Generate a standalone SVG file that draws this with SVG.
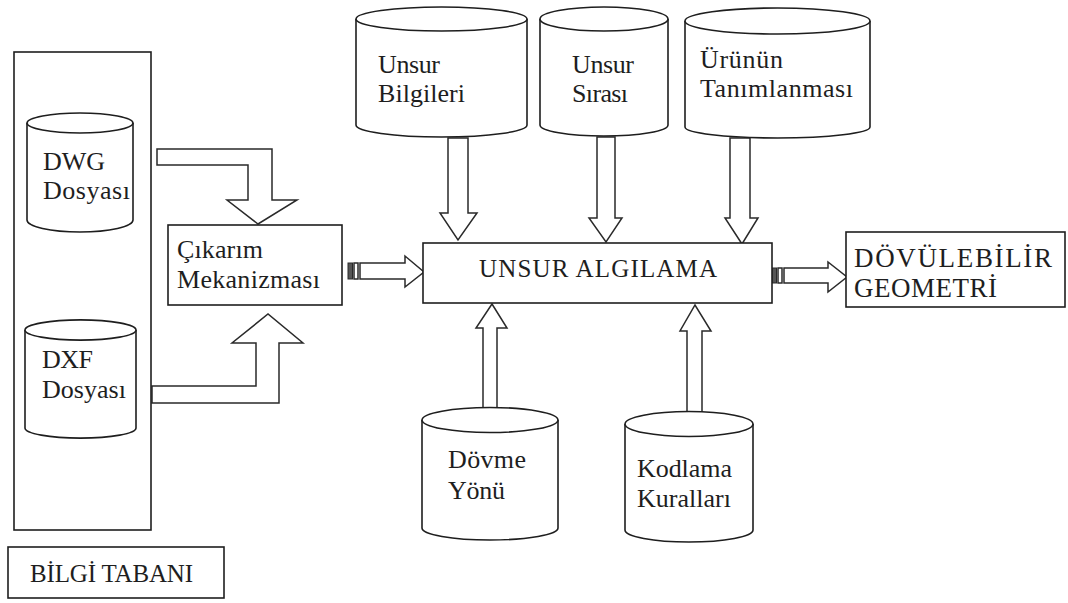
<svg xmlns="http://www.w3.org/2000/svg" width="1068" height="603" viewBox="0 0 1068 603">
<style>
.s{fill:#fff;stroke:#1e1e1e;stroke-width:1.6;stroke-linejoin:miter}
.a{fill:#fff;stroke:#2a2a2a;stroke-width:1.5;stroke-linejoin:miter}
.d{fill:#555;stroke:#2a2a2a;stroke-width:1}
text{font-family:"Liberation Serif","Times New Roman",serif;font-size:26px;fill:#1e1e1e}
.b{font-size:25px}
.c{font-size:27px}
</style>
<rect width="1068" height="603" fill="#fff"/>
<g id="connectors">
<polygon class="a" points="157,149 272,149 272,200 297,200 258,224 227,200 248,200 248,165 157,165"/>
<polygon class="a" points="152,403 279,403 279,343 303,343 268,314 232,343 256,343 256,386 152,386"/>
<g id="arrow-cik-unsur">
<rect class="d" x="348" y="263" width="4.5" height="16"/>
<rect class="a" x="354" y="263" width="4" height="16"/>
<polygon class="a" points="360,263 405,263 405,256 424,272 405,287 405,279 360,279"/>
</g>
<g id="arrow-unsur-dov">
<rect class="d" x="772" y="268" width="4.5" height="15"/>
<rect class="a" x="778" y="268" width="4" height="15"/>
<polygon class="a" points="784,268 828,268 828,262 847,277 828,292 828,283 784,283"/>
</g>
<polygon class="a" points="448,138 468,138 468,213 477,213 458,240 440,213 448,213"/>
<polygon class="a" points="597,137 615,137 615,218 622,218 606,242 589,218 597,218"/>
<polygon class="a" points="730,138 750,138 750,218 758,218 742,244 725,218 730,218"/>
<polygon class="a" points="483,410 497,410 497,328 507,328 492,304 476,328 483,328"/>
<polygon class="a" points="687,414 702,414 702,331 711,331 695,305 680,331 687,331"/>
</g>
<g id="bilgi-tabani-frame">
<rect class="s" x="14" y="52" width="137" height="478"/>
</g>
<g id="dwg">
<path class="s" d="M27,123 A53,10 0 0 1 133,123 V220 A53,12 0 0 1 27,220 Z"/>
<path class="s" d="M27,123 A53,10 0 0 0 133,123" fill="none"/>
<text x="43" y="170" textLength="62" lengthAdjust="spacing">DWG</text>
<text x="43" y="199" textLength="87" lengthAdjust="spacing">Dosyası</text>
</g>
<g id="dxf">
<path class="s" d="M25,330 A55,10 0 0 1 136,330 V428 A55,10 0 0 1 25,428 Z"/>
<path class="s" d="M25,330 A55,10 0 0 0 136,330" fill="none"/>
<text x="42" y="368" textLength="51" lengthAdjust="spacing">DXF</text>
<text x="42" y="398" textLength="84" lengthAdjust="spacing">Dosyası</text>
</g>
<g id="bilgi-tabani">
<rect class="s" x="8" y="547" width="216" height="51"/>
<text class="b" x="30" y="582" textLength="163" lengthAdjust="spacing">BİLGİ TABANI</text>
</g>
<g id="cikarim">
<rect class="s" x="168" y="225" width="174" height="80"/>
<text x="177" y="258" textLength="86" lengthAdjust="spacing">Çıkarım</text>
<text x="177" y="288" textLength="143" lengthAdjust="spacing">Mekanizması</text>
</g>
<g id="unsur-algilama">
<rect class="s" x="423" y="243" width="349" height="60"/>
<text class="b" x="479" y="277" textLength="238" lengthAdjust="spacing">UNSUR ALGILAMA</text>
</g>
<g id="dovulebilir">
<rect class="s" x="846" y="232" width="219" height="75"/>
<text class="c" x="854" y="267" textLength="198" lengthAdjust="spacing">DÖVÜLEBİLİR</text>
<text class="c" x="854" y="297" textLength="143" lengthAdjust="spacing">GEOMETRİ</text>
</g>
<g id="unsur-bilgileri">
<path class="s" d="M356,19 A85.5,12 0 0 1 527,19 V125 A85.5,12 0 0 1 356,125 Z"/>
<path class="s" d="M356,19 A85.5,12 0 0 0 527,19" fill="none"/>
<text x="378" y="73" textLength="62" lengthAdjust="spacing">Unsur</text>
<text x="378" y="102" textLength="87" lengthAdjust="spacing">Bilgileri</text>
</g>
<g id="unsur-sirasi">
<path class="s" d="M540,19 A64,12 0 0 1 668,19 V125 A64,11 0 0 1 540,125 Z"/>
<path class="s" d="M540,19 A64,12 0 0 0 668,19" fill="none"/>
<text x="572" y="73" textLength="62" lengthAdjust="spacing">Unsur</text>
<text x="572" y="102" textLength="56" lengthAdjust="spacing">Sırası</text>
</g>
<g id="urunun">
<path class="s" d="M685,21 A92.5,13 0 0 1 870,21 V127 A92.5,11 0 0 1 685,127 Z"/>
<path class="s" d="M685,21 A92.5,13 0 0 0 870,21" fill="none"/>
<text x="700" y="68" textLength="83" lengthAdjust="spacing">Ürünün</text>
<text x="700" y="97" textLength="153" lengthAdjust="spacing">Tanımlanması</text>
</g>
<g id="dovme-yonu">
<path class="s" d="M422,420 A68,12.5 0 0 1 558,420 V528 A68,12 0 0 1 422,528 Z"/>
<path class="s" d="M422,420 A68,12.5 0 0 0 558,420" fill="none"/>
<text x="448" y="468" textLength="78" lengthAdjust="spacing">Dövme</text>
<text x="448" y="499" textLength="57" lengthAdjust="spacing">Yönü</text>
</g>
<g id="kodlama">
<path class="s" d="M625,424 A64,12.5 0 0 1 753,424 V530 A64,12 0 0 1 625,530 Z"/>
<path class="s" d="M625,424 A64,12.5 0 0 0 753,424" fill="none"/>
<text x="637" y="477" textLength="95" lengthAdjust="spacing">Kodlama</text>
<text x="637" y="507" textLength="94" lengthAdjust="spacing">Kuralları</text>
</g>
</svg>
